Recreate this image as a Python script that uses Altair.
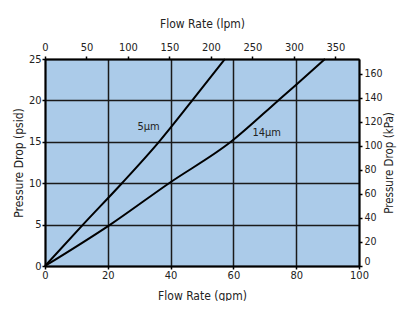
import altair as alt
import pandas as pd

# ---- data ----
series_5_name = "5µm"
gpm_5 = [0, 12.1, 24.5, 36.3, 46.9, 57.3]
psid_5 = [0, 5, 10, 15, 20, 25]

series_14_name = "14µm"
gpm_14 = [0, 20.8, 39.5, 59.2, 74.3, 80.0, 89.2]
psid_14 = [0, 5, 10, 15, 20, 21.9, 25]

label_text = ["5µm", "14µm"]
label_gpm = [33.0, 70.6]
label_psid = [16.8, 16.1]

gpm_ticks = [0, 20, 40, 60, 80, 100]
psid_ticks = [0, 5, 10, 15, 20, 25]
lpm_ticks = [0, 50, 100, 150, 200, 250, 300, 350]
kpa_ticks = [0, 20, 40, 60, 80, 100, 120, 140, 160]

GPM_MAX = 100
PSID_MAX = 25
LPM_MAX = GPM_MAX * 3.78541
KPA_MAX = PSID_MAX * 6.89476

FONT = "DejaVu Sans Condensed, DejaVu Sans, sans-serif"
TXT = "#222222"

df = pd.DataFrame(
    {
        "gpm": gpm_5 + gpm_14,
        "psid": psid_5 + psid_14,
        "series": [series_5_name] * len(gpm_5) + [series_14_name] * len(gpm_14),
    }
)
lab = pd.DataFrame({"t": label_text, "gpm": label_gpm, "psid": label_psid})
top_df = pd.DataFrame({"lpm": lpm_ticks})
right_df = pd.DataFrame({"kpa": kpa_ticks})

axis_common = dict(
    domainColor="black",
    domainWidth=2,
    tickColor="black",
    tickWidth=1.5,
    tickSize=3,
    labelFont=FONT,
    labelColor=TXT,
    titleFont=FONT,
    titleFontWeight="normal",
    titleColor=TXT,
    gridColor="#1a1a1a",
    gridWidth=1.5,
    gridOpacity=1,
    labelOverlap=False,
)

xsc = alt.Scale(domain=[0, GPM_MAX], nice=False, zero=True)
ysc = alt.Scale(domain=[0, PSID_MAX], nice=False, zero=True)

lines = (
    alt.Chart(df)
    .mark_line(color="black", strokeWidth=2, interpolate="monotone")
    .encode(
        x=alt.X(
            "gpm:Q",
            scale=xsc,
            axis=alt.Axis(
                orient="bottom",
                values=gpm_ticks,
                grid=True,
                title="Flow Rate  (gpm)",
                labelFontSize=11,
                titleFontSize=12,
                labelPadding=0,
                labelFlush=False,
                titlePadding=10,
                **axis_common,
            ),
        ),
        y=alt.Y(
            "psid:Q",
            scale=ysc,
            axis=alt.Axis(
                orient="left",
                values=psid_ticks,
                grid=True,
                title="Pressure Drop (psid)",
                labelFontSize=11,
                titleFontSize=12,
                labelPadding=1,
                labelFlush=False,
                titlePadding=3,
                **axis_common,
            ),
        ),
        detail="series:N",
    )
)

labels = (
    alt.Chart(lab)
    .mark_text(font=FONT, fontSize=11, color=TXT)
    .encode(
        x=alt.X("gpm:Q", scale=xsc, axis=None),
        y=alt.Y("psid:Q", scale=ysc, axis=None),
        text="t:N",
    )
)

top_axis = (
    alt.Chart(top_df)
    .mark_point(opacity=0)
    .encode(
        x=alt.X(
            "lpm:Q",
            scale=alt.Scale(domain=[0, LPM_MAX], nice=False, zero=True),
            axis=alt.Axis(
                orient="top",
                values=lpm_ticks,
                grid=False,
                title="Flow Rate  (lpm)",
                labelFontSize=11,
                titleFontSize=12,
                labelPadding=4,
                labelFlush=False,
                titlePadding=11,
                **axis_common,
            ),
        )
    )
)

right_axis = (
    alt.Chart(right_df)
    .mark_point(opacity=0)
    .encode(
        y=alt.Y(
            "kpa:Q",
            scale=alt.Scale(domain=[0, KPA_MAX], nice=False, zero=True),
            axis=alt.Axis(
                orient="right",
                values=kpa_ticks,
                grid=False,
                title="Pressure Drop (kPa)",
                titleAngle=270,
                titleBaseline="top",
                labelFontSize=10.5,
                titleFontSize=11.5,
                labelPadding=2,
                labelFlush=True,
                titlePadding=1,
                **axis_common,
            ),
        )
    )
)

chart = (
    alt.layer(lines, labels, top_axis, right_axis)
    .resolve_scale(x="independent", y="independent")
    .properties(
        width=314,
        height=207,
        autosize=alt.AutoSizeParams(type="none"),
        padding={"left": 37, "top": 51, "right": 38, "bottom": 35},
        background="white",
    )
    .configure_view(fill="#abcbe9", stroke="transparent")
)

chart.save("out.html", embed_options={"renderer": "svg", "actions": False})
